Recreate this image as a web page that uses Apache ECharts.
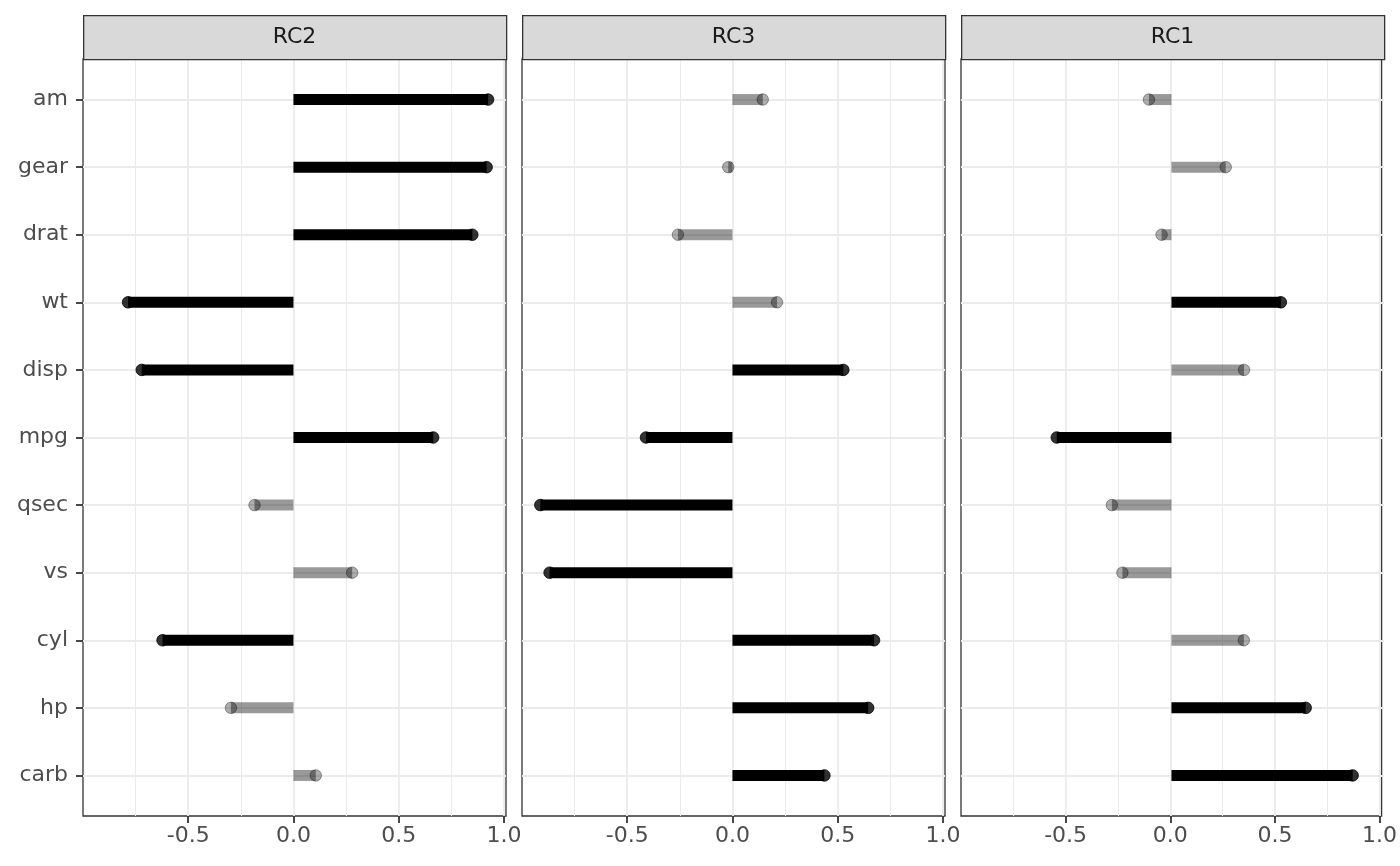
<!DOCTYPE html>
<html>
<head>
<meta charset="utf-8">
<script src="https://cdn.jsdelivr.net/npm/echarts@6/dist/echarts.min.js"></script>
<style>
  html, body { margin: 0; padding: 0; background: #fff; }
  #chart { width: 1400px; height: 866px; }
</style>
</head>
<body>
<div id="chart"></div>
<script>
// variables, top to bottom
const variables = ['am', 'gear', 'drat', 'wt', 'disp', 'mpg', 'qsec', 'vs', 'cyl', 'hp', 'carb'];
// facet titles, left to right
const factors = ['RC2', 'RC3', 'RC1'];
// loadings
const rc2 = [0.925, 0.918, 0.850, -0.786, -0.721, 0.664, -0.185, 0.279, -0.622, -0.297, 0.106];
const rc3 = [0.144, -0.020, -0.259, 0.212, 0.527, -0.411, -0.913, -0.869, 0.673, 0.645, 0.437];
const rc1 = [-0.107, 0.258, -0.047, 0.520, 0.345, -0.545, -0.283, -0.233, 0.344, 0.638, 0.861];
const xTicks = [-0.5, 0, 0.5, 1];

const loadings = [rc2, rc3, rc1];
// loadings at or above this size are drawn solid
const cutoff = 0.4;

const FONT = 'DejaVu Sans';
const panelLeft = [83, 522, 961];
const panelW = 423;
const panelTop = 59;
const panelBottom = 816;
const stripTop = 15;
const tickLen = 7;
// ggplot discrete expansion: 0.6 of a band above first and below last row
const band = (panelBottom - panelTop) / (variables.length - 1 + 1.2);
const rowTop = panelTop + 0.6 * band;
const rowBottom = panelBottom - 0.6 * band;

const xMin = -1, xMax = 1.01;

const grid = [], xAxis = [], yAxis = [], series = [], graphic = [];

factors.forEach((name, p) => {
  const left = panelLeft[p];
  // frame grid: border, vertical grid lines, x labels
  grid.push({
    left: left, top: panelTop, width: panelW, height: panelBottom - panelTop,
    show: true, borderColor: '#333333', borderWidth: 1.3, backgroundColor: 'transparent'
  });
  // data grid: rows span first to last category centre
  grid.push({
    left: left, top: rowTop, width: panelW, height: rowBottom - rowTop,
    show: false
  });
  const fg = grid.length - 2, dg = grid.length - 1;

  xAxis.push({
    type: 'value', gridIndex: fg, min: xMin, max: xMax, interval: 0.5,
    axisLine: { show: false },
    axisTick: { show: true, length: tickLen, customValues: xTicks, lineStyle: { color: '#333333', width: 1.8 } },
    axisLabel: {
      show: true, customValues: xTicks, margin: 9,
      fontFamily: FONT, fontSize: 22, color: '#4d4d4d',
      formatter: v => v.toFixed(1)
    },
    splitLine: { show: true, lineStyle: { color: '#ebebeb', width: 1.8 } },
    minorTick: { show: false, splitNumber: 2 },
    minorSplitLine: { show: true, lineStyle: { color: '#ebebeb', width: 1 } }
  });
  yAxis.push({ type: 'value', gridIndex: fg, min: 0, max: 1, show: false });

  xAxis.push({
    type: 'value', gridIndex: dg, min: xMin, max: xMax,
    axisLine: { show: false }, axisTick: { show: false }, axisLabel: { show: false },
    splitLine: { show: false }
  });
  yAxis.push({
    type: 'category', gridIndex: dg, data: variables, inverse: true, boundaryGap: false,
    position: 'left',
    axisLine: { show: false, onZero: false },
    axisTick: { show: false },
    axisLabel: {
      show: p === 0, interval: 0, margin: 15,
      fontFamily: FONT, fontSize: 22, color: '#4d4d4d'
    },
    splitLine: { show: true, interval: 0, lineStyle: { color: '#ebebeb', width: 1.8 } }
  });

  const vals = loadings[p];
  const colorOf = v => Math.abs(v) >= cutoff ? '#000000' : 'rgba(0,0,0,0.4)';

  series.push({
    type: 'bar', xAxisIndex: dg, yAxisIndex: dg, barWidth: 11, z: 3,
    data: vals.map(v => ({ value: v, itemStyle: { color: colorOf(v) } })),
    silent: true
  });
  series.push({
    type: 'scatter', xAxisIndex: dg, yAxisIndex: dg, symbolSize: 11.5, z: 4,
    data: vals.map(v => ({
      value: v,
      itemStyle: {
        color: colorOf(v),
        borderColor: Math.abs(v) >= cutoff ? '#000000' : 'rgba(0,0,0,0.45)',
        borderWidth: 1
      }
    })),
    silent: true
  });

  // facet strip
  graphic.push({
    type: 'rect', left: left, top: stripTop, z: 10,
    shape: { x: 0, y: 0, width: panelW, height: panelTop - stripTop },
    style: { fill: '#d9d9d9', stroke: '#333333', lineWidth: 1.3 }
  });
  graphic.push({
    type: 'text', z: 11,
    x: left + panelW / 2, y: stripTop + (panelTop - stripTop) / 2,
    style: {
      text: name, fill: '#1a1a1a', font: '22px "' + FONT + '"',
      align: 'center', verticalAlign: 'middle'
    }
  });
});

// tick-only grid over the first panel: its x axis starts at 0, so the
// category axis sits on the left border and its ticks point outward
grid.push({
  left: panelLeft[0], top: rowTop, width: panelW, height: rowBottom - rowTop,
  show: false
});
const tg = grid.length - 1;
xAxis.push({
  type: 'value', gridIndex: tg, min: 0, max: 1,
  axisLine: { show: false }, axisTick: { show: false }, axisLabel: { show: false },
  splitLine: { show: false }
});
yAxis.push({
  type: 'category', gridIndex: tg, data: variables, inverse: true, boundaryGap: false,
  axisLine: { show: false },
  axisTick: { show: true, interval: 0, length: tickLen, lineStyle: { color: '#333333', width: 1.8 } },
  axisLabel: { show: false },
  splitLine: { show: false }
});

const chart = echarts.init(document.getElementById('chart'), null, { renderer: 'canvas' });
chart.setOption({
  animation: false,
  backgroundColor: '#ffffff',
  grid, xAxis, yAxis, series, graphic
});
</script>
</body>
</html>
